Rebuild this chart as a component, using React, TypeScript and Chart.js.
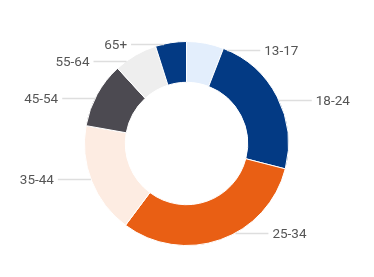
import React, { useEffect, useRef } from "react";
import { Chart, registerables } from "chart.js";

Chart.register(...registerables);

const categories = ["13-17", "18-24", "25-34", "35-44", "45-54", "55-64", "65+"];
const shares = [5.9, 23.1, 31.2, 17.6, 10.4, 6.9, 4.9];
const sliceColors = ["#e3eefc", "#033a84", "#e95f14", "#fdece2", "#4c4a51", "#eeeeee", "#033a84"];

const LABEL_RADIUS_FACTOR = 0.935;
const LEADER_LEN = 33;
const LEADER_GAP = 4;
const MIN_LABEL_SPACING = 17;

const outsideLabels = {
  id: "outsideLabels",
  afterDatasetsDraw(chart: any) {
    const ctx = chart.ctx as CanvasRenderingContext2D;
    const meta = chart.getDatasetMeta(0);
    const items = meta.data.map((arc: any, i: number) => {
      const p = arc.getProps(["x", "y", "startAngle", "endAngle", "outerRadius"], true);
      const mid = (p.startAngle + p.endAngle) / 2;
      return {
        i,
        p,
        right: Math.cos(mid) >= 0,
        ly: p.y + Math.sin(mid) * p.outerRadius * LABEL_RADIUS_FACTOR,
      };
    });
    // resolve overlaps per side by pushing upper labels upward
    [true, false].forEach((side) => {
      const list = items.filter((it: any) => it.right === side).sort((a: any, b: any) => a.ly - b.ly);
      for (let k = list.length - 2; k >= 0; k--) {
        if (list[k].ly > list[k + 1].ly - MIN_LABEL_SPACING) {
          list[k].ly = list[k + 1].ly - MIN_LABEL_SPACING;
        }
      }
    });
    ctx.save();
    ctx.font = "13.5px Roboto";
    ctx.textBaseline = "middle";
    items.forEach((it: any) => {
      const p = it.p;
      const ly = Math.round(it.ly);
      const dy = ly - p.y;
      const edge = Math.sqrt(Math.max(p.outerRadius * p.outerRadius - dy * dy, 0));
      const sx = it.right ? p.x + edge : p.x - edge;
      const ex = it.right ? sx + LEADER_LEN : sx - LEADER_LEN;
      ctx.strokeStyle = "#dedede";
      ctx.lineWidth = 1.5;
      ctx.beginPath();
      ctx.moveTo(sx, ly + 0.5);
      ctx.lineTo(ex, ly + 0.5);
      ctx.stroke();
      ctx.fillStyle = "#555555";
      ctx.textAlign = it.right ? "left" : "right";
      ctx.fillText(categories[it.i], it.right ? ex + LEADER_GAP : ex - LEADER_GAP, ly + 1.5);
    });
    ctx.restore();
  },
};

export default function App() {
  const ref = useRef<HTMLCanvasElement | null>(null);
  useEffect(() => {
    document.body.style.margin = "0";
    if (!ref.current) return;
    const chart = new Chart(ref.current, {
      type: "doughnut",
      data: {
        labels: categories,
        datasets: [
          {
            data: shares,
            backgroundColor: sliceColors,
            borderColor: "#ffffff",
            borderWidth: 1,
          },
        ],
      },
      options: {
        responsive: false,
        animation: false,
        cutout: "60%",
        layout: { padding: { top: 41, bottom: 31, left: 60, right: 61 } },
        plugins: {
          legend: { display: false },
          tooltip: { enabled: false },
        },
      },
      plugins: [outsideLabels],
    });
    return () => chart.destroy();
  }, []);
  return (
    <div style={{ width: 374, height: 277, background: "#ffffff" }}>
      <canvas ref={ref} width={374} height={277} />
    </div>
  );
}
